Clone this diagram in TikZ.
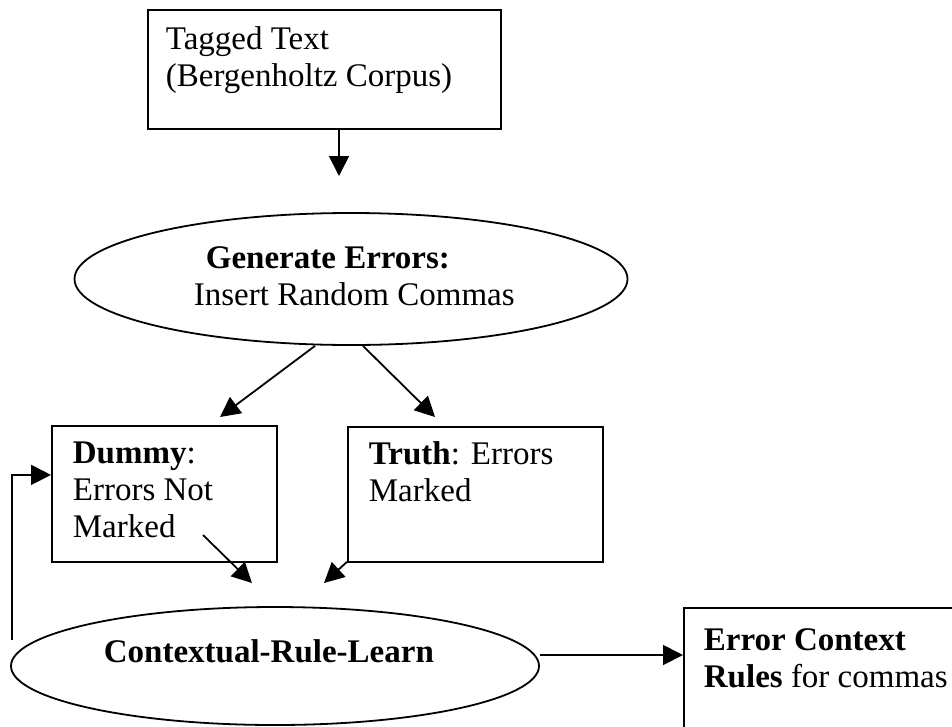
\documentclass[tikz,border=0pt]{standalone}
\usepackage{fontspec}
\setmainfont{Liberation Serif}
\usetikzlibrary{positioning,shapes.geometric,arrows.meta}

\begin{document}
\begin{tikzpicture}[x=1pt,y=-1pt,line width=1.8pt,font=\fontsize{33}{37}\selectfont,
    arr/.style={-{Triangle[length=20pt,width=20pt]}}]
            \tikzstyle{box}=[rectangle,draw,anchor=north west,inner sep=0]
            \tikzstyle{oval}=[ellipse,draw,inner sep=0]
            \tikzstyle{txt}=[anchor=north west,inner sep=0,align=left]
            \clip (0,0) rectangle (952,726);
            % boxes and ovals
            \node(tagged)[box,minimum width=353,minimum height=119] at (147,9) {};
            \node(gen)[oval,minimum width=553,minimum height=132] at (351,279) {};
            \node(dummy)[box,minimum width=225,minimum height=136] at (51,425) {};
            \node(truth)[box,minimum width=255,minimum height=135] at (347,426) {};
            \node(ctx)[oval,minimum width=528,minimum height=118] at (275,666) {};
            \node(rules)[box,minimum width=300,minimum height=160] at (683,607) {};
            % texts
            \node(taggedtxt)[txt] at ([xshift=18,yshift=-17]tagged.north west) {Tagged Text\\(Bergenholtz Corpus)};
            \node(gentxt)[txt] at (193,246) {\hspace*{12pt}\textbf{Generate Errors:}\\Insert Random Commas};
            \node(dummytxt)[txt] at ([xshift=21,yshift=-16]dummy.north west) {\textbf{Dummy}:\\Errors Not\\Marked};
            \node(truthtxt)[txt] at ([xshift=21,yshift=-15]truth.north west) {\textbf{Truth}: Errors\\Marked};
            \node(ctxtxt)[txt] at (103,639) {\textbf{Contextual-Rule-Learn}};
            \node(rulestxt)[txt] at ([xshift=20,yshift=-21]rules.north west) {\textbf{Error Context}\\\textbf{Rules} for commas};
            % loose ends
            \coordinate (genin) at (339,176);
            \coordinate (din) at (220,417);
            \coordinate (tin) at (435,417);
            \coordinate (dout) at (203,535);
            \coordinate (cin1) at (252,583);
            \coordinate (cin2) at (324,583);
            \coordinate (back) at (12,640);
            % connectors
            \draw[arr] (tagged.south -| genin) -- (genin);
            \draw[arr] ([xshift=-36]gen.south) -- (din);
            \draw[arr] ([xshift=12]gen.south) -- (tin);
            \draw[arr] (dout) -- (cin1);
            \draw[arr] ([yshift=1]truth.south west) -- (cin2);
            \draw[arr] (back) |- ([yshift=19]dummy.west);
            \draw[arr] ([yshift=11]ctx.east) -- ([yshift=-48]rules.north west);
          \end{tikzpicture}
\end{document}
